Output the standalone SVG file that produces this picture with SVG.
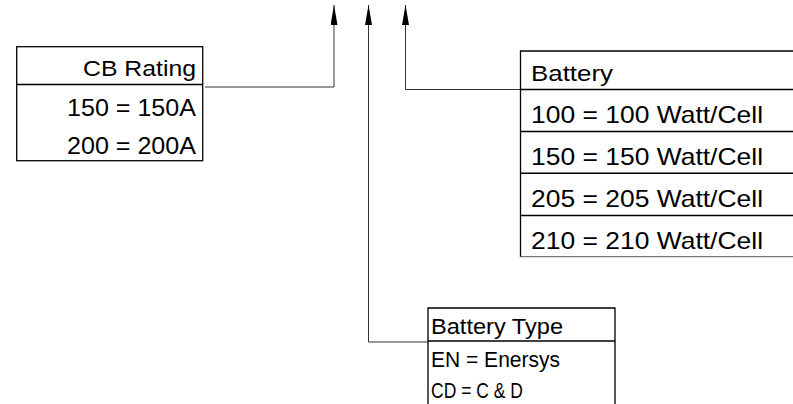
<svg xmlns="http://www.w3.org/2000/svg" width="793" height="404" viewBox="0 0 793 404">
<style>
.box{fill:none;stroke:#000;stroke-width:1.3}
.div{stroke:#000;stroke-width:1.6}
.conn{fill:none;stroke:#333;stroke-width:1}
text{font-family:"Liberation Sans",Arial,sans-serif;fill:#000}
.h{font-size:22.5px}
.r{font-size:24px}
.t{font-size:22px}
</style>
<defs>
<marker id="arr" markerUnits="userSpaceOnUse" markerWidth="20" markerHeight="7" refX="20" refY="3.5" orient="auto">
<path d="M0,0 L20,3.5 L0,7 z" fill="#000"/>
</marker>
</defs>
<rect width="793" height="404" fill="#fff"/>
<g id="connectors">
<path class="conn" d="M205,87 H334 V5" marker-end="url(#arr)"/>
<path class="conn" d="M428,342 H368.5 V5" marker-end="url(#arr)"/>
<path class="conn" d="M520,89.5 H405.5 V5" marker-end="url(#arr)"/>
</g>
<g id="cb-rating">
<rect class="box" x="16.7" y="46.7" width="186" height="114"/>
<line class="div" x1="16.7" y1="84.5" x2="202.7" y2="84.5"/>
<text class="h" x="196" y="76" text-anchor="end" textLength="113" lengthAdjust="spacingAndGlyphs">CB Rating</text>
<text class="r" x="196" y="115.5" text-anchor="end" textLength="129" lengthAdjust="spacingAndGlyphs">150 = 150A</text>
<text class="r" x="196" y="153.5" text-anchor="end" textLength="129" lengthAdjust="spacingAndGlyphs">200 = 200A</text>
</g>
<g id="battery">
<path class="box" d="M800,51 H520.5 V257"/>
<line class="div" x1="520.5" y1="89.5" x2="800" y2="89.5"/>
<line class="div" x1="520.5" y1="131.5" x2="800" y2="131.5"/>
<line class="div" x1="520.5" y1="173.3" x2="800" y2="173.3"/>
<line class="div" x1="520.5" y1="215.5" x2="800" y2="215.5"/>
<line x1="520.5" y1="256.7" x2="800" y2="256.7" stroke="#777" stroke-width="1.3"/>
<text class="h" x="531" y="80.5" textLength="82" lengthAdjust="spacingAndGlyphs">Battery</text>
<text class="r" x="531" y="122.5" textLength="232" lengthAdjust="spacingAndGlyphs">100 = 100 Watt/Cell</text>
<text class="r" x="531" y="164.5" textLength="232" lengthAdjust="spacingAndGlyphs">150 = 150 Watt/Cell</text>
<text class="r" x="531" y="206.5" textLength="232" lengthAdjust="spacingAndGlyphs">205 = 205 Watt/Cell</text>
<text class="r" x="531" y="248.5" textLength="232" lengthAdjust="spacingAndGlyphs">210 = 210 Watt/Cell</text>
</g>
<g id="battery-type">
<path class="box" d="M428,410 V308 H615 V410"/>
<line class="div" x1="428" y1="341" x2="615" y2="341"/>
<text class="t" x="431" y="333.5" textLength="132" lengthAdjust="spacingAndGlyphs">Battery Type</text>
<text class="t" x="431" y="367" textLength="129" lengthAdjust="spacingAndGlyphs">EN = Enersys</text>
<text class="t" x="431" y="397.5" textLength="92" lengthAdjust="spacingAndGlyphs">CD = C &amp; D</text>
</g>
</svg>
